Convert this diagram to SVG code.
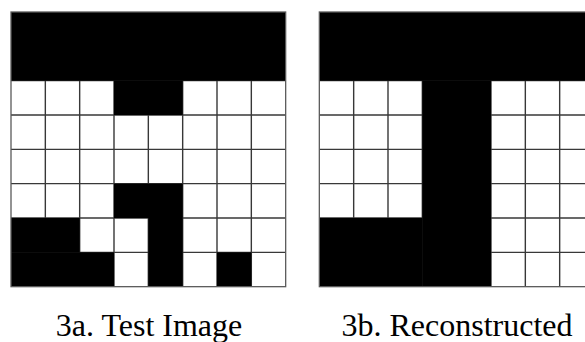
<svg xmlns="http://www.w3.org/2000/svg" width="585" height="342" viewBox="0 0 585 342">
  <style>
    .bg { fill: #ffffff; }
    .grid { fill: none; stroke: #383838; stroke-width: 1.4; }
    .blk { fill: #000000; }
    .border { fill: none; stroke: #5a5a5a; stroke-width: 1.3; }
    .cap { font-family: "Liberation Serif", "Times New Roman", serif; font-size: 32px; fill: #000000; text-anchor: middle; }
  </style>
  <rect x="0" y="0" width="585" height="342" fill="#ffffff"/>

  <g id="grid-3a">
    <rect class="bg" x="11" y="12" width="274.67" height="274.67"/>
    <path class="grid" d="M45.33 12V286.67M79.67 12V286.67M114 12V286.67M148.33 12V286.67M182.67 12V286.67M217 12V286.67M251.33 12V286.67
      M11 46.33H285.67M11 80.67H285.67M11 115H285.67M11 149.33H285.67M11 183.67H285.67M11 218H285.67M11 252.33H285.67"/>
    <rect class="blk" x="11" y="12" width="274.67" height="68.67"/>
    <rect class="blk" x="114" y="80.67" width="68.67" height="34.33"/>
    <rect class="blk" x="114" y="183.67" width="68.67" height="34.33"/>
    <rect class="blk" x="11" y="218" width="68.67" height="34.33"/>
    <rect class="blk" x="148.33" y="218" width="34.33" height="68.67"/>
    <rect class="blk" x="11" y="252.33" width="103" height="34.33"/>
    <rect class="blk" x="217" y="252.33" width="34.33" height="34.33"/>
    <rect class="border" x="11" y="12" width="274.67" height="274.67"/>
  </g>

  <g id="grid-3b">
    <rect class="bg" x="319.33" y="12" width="274.67" height="274.67"/>
    <path class="grid" d="M353.67 12V286.67M388 12V286.67M422.33 12V286.67M456.67 12V286.67M491 12V286.67M525.33 12V286.67M559.67 12V286.67
      M319.33 46.33H594M319.33 80.67H594M319.33 115H594M319.33 149.33H594M319.33 183.67H594M319.33 218H594M319.33 252.33H594"/>
    <rect class="blk" x="319.33" y="12" width="274.67" height="68.67"/>
    <rect class="blk" x="422.33" y="80.67" width="68.67" height="206"/>
    <rect class="blk" x="319.33" y="218" width="103" height="68.67"/>
    <rect class="border" x="319.33" y="12" width="274.67" height="274.67"/>
  </g>

  <g id="captions">
    <text class="cap" x="149" y="336">3a. Test Image</text>
    <text class="cap" x="457" y="336">3b. Reconstructed</text>
  </g>
</svg>
